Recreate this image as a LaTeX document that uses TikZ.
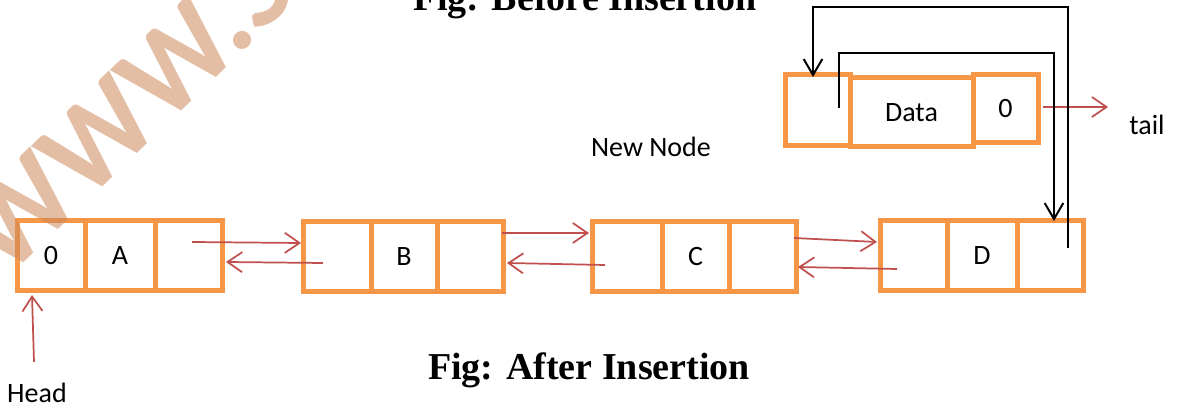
\documentclass[tikz,border=0pt]{standalone}
\usepackage{fontspec}
\setmainfont{Carlito}
\newfontfamily\titlefont{Liberation Serif}
\usetikzlibrary{arrows.meta,calc}
\definecolor{boxor}{HTML}{F79646}
\definecolor{arred}{HTML}{C0504D}
\definecolor{wmark}{RGB}{204,137,91}
\begin{document}
\begin{tikzpicture}[x=0.75pt,y=-0.75pt,
  cell/.style={draw=boxor, line width=3.75pt, rectangle, inner sep=0pt, outer sep=0pt,
    minimum height=70*0.75pt, font=\fontsize{21}{25}\selectfont},
  redarr/.style={draw=arred, line width=1.3pt, -{Straight Barb[length=11pt,width=15pt]}},
  blkarr/.style={draw=black, line width=1.5pt, -{Straight Barb[length=12pt,width=14pt]}},
  lbl/.style={font=\fontsize{21}{25}\selectfont, inner sep=0pt},
  figtitle/.style={font=\titlefont\bfseries\fontsize{28.5}{34}\selectfont, inner sep=0pt, anchor=base}]
\path[use as bounding box] (0,0) rectangle (1178,409);
\clip (0,0) rectangle (1178,409);

% titles
\node[figtitle] (t1) at (585,11) {Fig: Before Insertion};
\node[figtitle] (t2) at (589,380) {Fig: After Insertion};

% list nodes
\node[cell, minimum width=68*0.75pt] (a0) at (51,256) {0};
\node[cell, minimum width=70*0.75pt] (a1) at (120,256) {A};
\node[cell, minimum width=67*0.75pt] (a2) at (188.5,256) {};

\node[cell, minimum width=68*0.75pt] (b0) at (337,256.5) {};
\node[cell, minimum width=66*0.75pt] (b1) at (404,256.5) {B};
\node[cell, minimum width=66*0.75pt] (b2) at (470,256.5) {};

\node[cell, minimum width=70*0.75pt] (c0) at (627,256.5) {};
\node[cell, minimum width=67*0.75pt] (c1) at (695.5,256.5) {C};
\node[cell, minimum width=67*0.75pt] (c2) at (762.5,256.5) {};

\node[cell, minimum width=67*0.75pt] (d0) at (913.5,256) {};
\node[cell, minimum width=70*0.75pt] (d1) at (982,256) {D};
\node[cell, minimum width=66*0.75pt] (d2) at (1050,256) {};

% new node
\node[cell, minimum width=65*0.75pt, minimum height=71*0.75pt] (n0) at (817.5,110.5) {};
\node[cell, minimum width=123*0.75pt, minimum height=69*0.75pt] (n1) at (911.5,112.5) {Data};
\node[cell, minimum width=65*0.75pt, minimum height=68*0.75pt] (n2) at (1005.5,109) {0};

% labels
\node[lbl] (newnode) at (651,147) {New Node};
\node[lbl] (tail) at (1147,125) {tail};
\node[lbl] (head) at (37,393) {Head};

% red links
\draw[redarr] ([shift={(3.5,-14)}]a2.center) -- ([shift={(-2,-13.5)}]b0.west);
\draw[redarr] ([shift={(20,6.5)}]b0.west) -- ([shift={(4,6)}]a2.east);
\draw[redarr] ([shift={(-1,-23.5)}]b2.east) -- ([shift={(-3,-23.5)}]c0.west);
\draw[redarr] ([shift={(13,8.5)}]c0.west) -- ([shift={(4,6.5)}]b2.east);
\draw[redarr] ([shift={(-2,-18.5)}]c2.east) -- ([shift={(-3,-14)}]d0.west);
\draw[redarr] ([shift={(17,13)}]d0.west) -- ([shift={(2,10.5)}]c2.east);
\draw[redarr] ([shift={(-3,-21)}]head.north) -- ([shift={(15,4)}]a0.south west);
\draw[redarr] ([shift={(5,-2)}]n2.east) -- ([shift={(-21,-18)}]tail.west);

% black links
\coordinate (s1) at ([shift={(18,-8)}]d2.center);
\coordinate (e1) at ([shift={(-4.5,2)}]n0.north);
\draw[blkarr] (s1) |- ($(e1)+(0,-70)$) -- (e1);
\coordinate (s2) at ([shift={(21.5,-2.5)}]n0.center);
\coordinate (e2) at ([shift={(4,0)}]d2.north);
\draw[blkarr] (s2) |- ($(e2)+(0,-168)$) -- (e2);

% watermark
\node[rotate=44, anchor=base west, text=wmark, opacity=0.55, inner sep=0pt,
  font=\bfseries\fontsize{91}{100}\selectfont] (wm) at (6,280) {WWW.S};
\end{tikzpicture}
\end{document}
